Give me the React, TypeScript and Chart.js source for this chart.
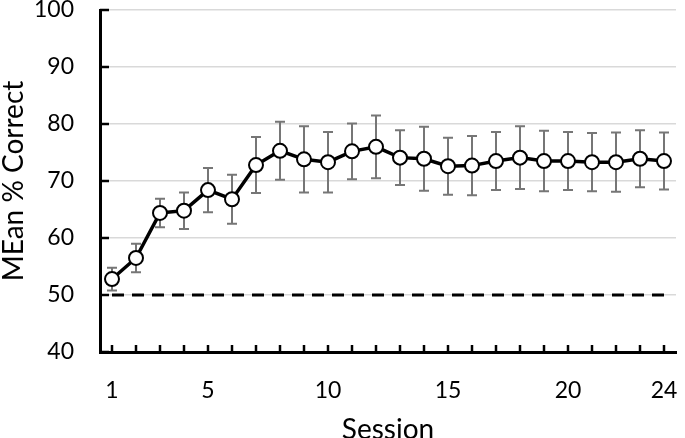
import React, { useEffect, useRef } from "react";
import { Chart, registerables } from "chart.js";

Chart.register(...registerables);

const sessions: string[] = Array.from({ length: 24 }, (_, i) => String(i + 1));
const meanCorrect: number[] = [52.8, 56.5, 64.4, 64.8, 68.4, 66.8, 72.8, 75.3, 73.8, 73.3, 75.2, 76.0, 74.1, 73.9, 72.6, 72.7, 73.5, 74.1, 73.5, 73.5, 73.3, 73.3, 73.9, 73.5];
const errorBars: number[] = [2.0, 2.5, 2.5, 3.2, 3.9, 4.3, 4.9, 5.1, 5.8, 5.3, 4.9, 5.5, 4.8, 5.6, 5.0, 5.2, 5.1, 5.5, 5.3, 5.1, 5.1, 5.2, 5.0, 5.0];
const chanceLevel: number[] = Array.from({ length: 24 }, () => 50);
const shownXTicks: string[] = ["1", "5", "10", "15", "20", "24"];
const yMin = 40;
const yMax = 100;
const yStep = 10;

const FONT = "Lato";

const errorBarPlugin = {
  id: "errorBars",
  beforeDatasetsDraw(chart: any) {
    const ctx = chart.ctx;
    const xs = chart.scales.x;
    const ys = chart.scales.y;
    ctx.save();
    ctx.strokeStyle = "#767676";
    ctx.lineWidth = 2;
    meanCorrect.forEach((m, i) => {
      const x = xs.getPixelForValue(i);
      const yt = ys.getPixelForValue(m + errorBars[i]);
      const yb = ys.getPixelForValue(m - errorBars[i]);
      const cap = 5;
      ctx.beginPath();
      ctx.moveTo(x, yt);
      ctx.lineTo(x, yb);
      ctx.moveTo(x - cap, yt);
      ctx.lineTo(x + cap, yt);
      ctx.moveTo(x - cap, yb);
      ctx.lineTo(x + cap, yb);
      ctx.stroke();
    });
    ctx.restore();
  },
  afterDraw(chart: any) {
    const ctx = chart.ctx;
    const xs = chart.scales.x;
    const ys = chart.scales.y;
    const area = chart.chartArea;
    ctx.save();
    ctx.strokeStyle = "#000";
    ctx.lineWidth = 2.5;
    ctx.beginPath();
    sessions.forEach((_, i) => {
      const x = xs.getPixelForValue(i);
      ctx.moveTo(x, area.bottom);
      ctx.lineTo(x, area.bottom - 7);
    });
    for (let v = yMin; v <= yMax; v += yStep) {
      const y = ys.getPixelForValue(v);
      ctx.moveTo(area.left, y);
      ctx.lineTo(area.left + 9, y);
    }
    ctx.stroke();
    ctx.restore();
  },
};

export default function App() {
  const ref = useRef<HTMLCanvasElement>(null);
  useEffect(() => {
    document.body.style.margin = "0";
    if (!ref.current) return;
    const chart = new Chart(ref.current, {
      type: "line",
      data: {
        labels: sessions,
        datasets: [
          {
            label: "Mean",
            data: meanCorrect,
            borderColor: "#000",
            borderWidth: 3.5,
            pointRadius: 7,
            pointBorderWidth: 2,
            pointBackgroundColor: "#fff",
            pointBorderColor: "#000",
            tension: 0,
            order: 0,
          },
          {
            label: "Chance",
            data: chanceLevel,
            borderColor: "#000",
            borderWidth: 3,
            borderDash: [12, 8],
            pointRadius: 0,
            order: 1,
          },
        ],
      },
      options: {
        animation: false,
        responsive: false,
        maintainAspectRatio: false,
        layout: { padding: { top: 10, right: 1, left: 0, bottom: 0 } },
        plugins: { legend: { display: false }, tooltip: { enabled: false } },
        scales: {
          x: {
            type: "category",
            offset: true,
            grid: { display: false },
            border: { color: "#000", width: 3 },
            ticks: {
              autoSkip: false,
              maxRotation: 0,
              color: "#000",
              font: { family: FONT, size: 23 },
              padding: 17,
              callback: function (this: any, value: any) {
                const l = sessions[value as number];
                return shownXTicks.includes(l) ? l : "";
              },
            },
            title: {
              display: true,
              text: "Session",
              color: "#000",
              font: { family: FONT, size: 28, lineHeight: 0.6 },
              padding: 0,
            },
            afterFit(scale: any) {
              scale.height = 86;
              scale.paddingLeft = 0;
              scale.paddingRight = 0;
            },
          },
          y: {
            min: yMin,
            max: yMax,
            grid: { color: "#d9d9d9", lineWidth: 1.5, drawTicks: false },
            border: { color: "#000", width: 3 },
            ticks: {
              stepSize: yStep,
              color: "#000",
              font: { family: FONT, size: 23 },
              padding: 26,
            },
            title: {
              display: true,
              text: "MEan % Correct",
              color: "#000",
              font: { family: FONT, size: 28, lineHeight: 1 },
              padding: 0,
            },
            afterFit(scale: any) {
              scale.width = 100;
              scale.paddingTop = 0;
              scale.paddingBottom = 0;
            },
          },
        },
      },
      plugins: [errorBarPlugin],
    });
    return () => chart.destroy();
  }, []);
  return (
    <div style={{ width: 685, height: 438 }}>
      <canvas ref={ref} width={685} height={438} style={{ width: 685, height: 438, display: "block" }} />
    </div>
  );
}
